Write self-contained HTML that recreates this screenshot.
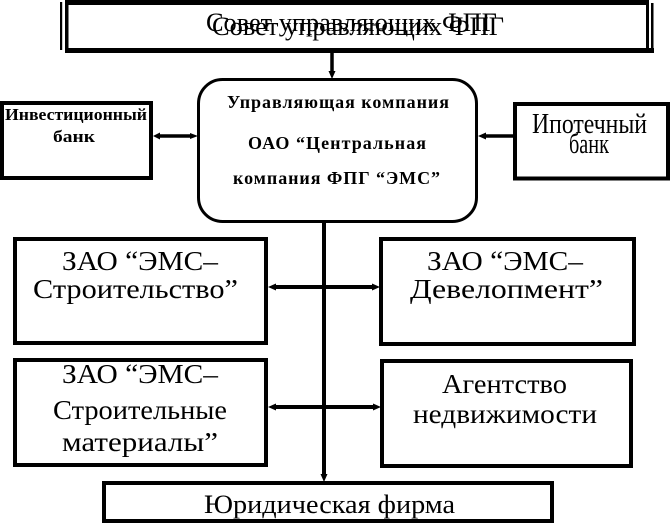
<!DOCTYPE html>
<html>
<head>
<meta charset="utf-8">
<style>
  html, body { margin:0; padding:0; background:#fff; }
  svg { display:block; }
  text { font-family: "Liberation Serif", "DejaVu Serif", serif; fill:#000; }
</style>
</head>
<body>
<svg width="670" height="523" viewBox="0 0 670 523" xmlns="http://www.w3.org/2000/svg">
  <rect x="0" y="0" width="670" height="523" fill="#fff"/>

  <!-- Top double-framed box -->
  <rect x="65" y="0" width="584" height="5" fill="#000"/>
  <rect x="65" y="48" width="589" height="5" fill="#000"/>
  <rect x="65" y="0" width="3.5" height="53" fill="#000"/>
  <rect x="60" y="2" width="2.2" height="48" fill="#000"/>
  <rect x="646" y="0" width="3" height="51" fill="#000"/>
  <rect x="651" y="3" width="2.5" height="50" fill="#000"/>
  <text x="206" y="31" font-size="26" textLength="291" lengthAdjust="spacingAndGlyphs">Совет управляющих ФПГ</text>
  <text x="212" y="35" font-size="26" textLength="292" lengthAdjust="spacingAndGlyphs">Совет управляющих ФПГ</text>

  <!-- top connector -->
  <line x1="332" y1="53" x2="332" y2="72" stroke="#000" stroke-width="3.5"/>
  <polygon points="328.5,71 332,79 335.5,71" fill="#000"/>

  <!-- Rounded central box -->
  <rect x="198.5" y="79.5" width="278" height="142" rx="24" ry="24" fill="none" stroke="#000" stroke-width="3"/>
  <text x="227" y="108" font-size="18" font-weight="bold" textLength="222" lengthAdjust="spacing">Управляющая компания</text>
  <text x="248" y="149" font-size="18" font-weight="bold" textLength="178" lengthAdjust="spacing">ОАО “Центральная</text>
  <text x="233" y="184" font-size="18" font-weight="bold" textLength="207" lengthAdjust="spacing">компания ФПГ “ЭМС”</text>

  <!-- Investment bank -->
  <rect x="2" y="103" width="149" height="75" fill="none" stroke="#000" stroke-width="4"/>
  <text x="5" y="120" font-size="17" font-weight="bold" textLength="142" lengthAdjust="spacingAndGlyphs">Инвестиционный</text>
  <text x="53" y="142" font-size="17" font-weight="bold" textLength="42" lengthAdjust="spacingAndGlyphs">банк</text>
  <line x1="157" y1="136" x2="191" y2="136" stroke="#000" stroke-width="3.5"/>
  <polygon points="160,132.5 153,136 160,139.5" fill="#000"/>
  <polygon points="190,133 198,136 190,139" fill="#000"/>

  <!-- Mortgage bank -->
  <rect x="515" y="104" width="153" height="74.5" fill="none" stroke="#000" stroke-width="4"/>
  <text x="532" y="133" font-size="28" textLength="115" lengthAdjust="spacingAndGlyphs">Ипотечный</text>
  <text x="569" y="153" font-size="28" textLength="40" lengthAdjust="spacingAndGlyphs">банк</text>
  <line x1="484" y1="136" x2="513" y2="136" stroke="#000" stroke-width="3.5"/>
  <polygon points="486,132.5 478,136 486,139.5" fill="#000"/>

  <!-- Trunk -->
  <line x1="324" y1="222" x2="324" y2="475" stroke="#000" stroke-width="4"/>
  <polygon points="320.5,474 324,482 327.5,474" fill="#000"/>

  <!-- ЗАО ЭМС-Строительство -->
  <rect x="15" y="239" width="251" height="104" fill="none" stroke="#000" stroke-width="4"/>
  <text x="62" y="270" font-size="27" textLength="156" lengthAdjust="spacingAndGlyphs">ЗАО “ЭМС–</text>
  <text x="33" y="298" font-size="27" textLength="205" lengthAdjust="spacingAndGlyphs">Строительство”</text>

  <!-- ЗАО ЭМС-Девелопмент -->
  <rect x="381" y="239" width="253" height="105" fill="none" stroke="#000" stroke-width="4"/>
  <text x="427" y="270" font-size="27" textLength="156" lengthAdjust="spacingAndGlyphs">ЗАО “ЭМС–</text>
  <text x="410" y="298" font-size="27" textLength="193" lengthAdjust="spacingAndGlyphs">Девелопмент”</text>

  <!-- upper row connector -->
  <line x1="275" y1="287" x2="373" y2="287" stroke="#000" stroke-width="4"/>
  <polygon points="276,283.5 268,287 276,290.5" fill="#000"/>
  <polygon points="372,283.5 380,287 372,290.5" fill="#000"/>

  <!-- ЗАО ЭМС-Строительные материалы -->
  <rect x="15" y="360" width="251" height="105" fill="none" stroke="#000" stroke-width="4"/>
  <text x="62" y="383" font-size="27" textLength="156" lengthAdjust="spacingAndGlyphs">ЗАО “ЭМС–</text>
  <text x="53" y="419" font-size="27" textLength="174" lengthAdjust="spacingAndGlyphs">Строительные</text>
  <text x="62" y="451" font-size="27" textLength="156" lengthAdjust="spacingAndGlyphs">материалы”</text>

  <!-- Агентство недвижимости -->
  <rect x="382" y="361" width="249" height="105" fill="none" stroke="#000" stroke-width="4"/>
  <text x="442" y="393" font-size="27" textLength="125" lengthAdjust="spacingAndGlyphs">Агентство</text>
  <text x="413" y="423" font-size="27" textLength="184" lengthAdjust="spacingAndGlyphs">недвижимости</text>

  <!-- lower row connector -->
  <line x1="275" y1="407" x2="374" y2="407" stroke="#000" stroke-width="4"/>
  <polygon points="276,403.5 268,407 276,410.5" fill="#000"/>
  <polygon points="373,403.5 381,407 373,410.5" fill="#000"/>

  <!-- Юридическая фирма -->
  <rect x="104" y="483" width="448" height="38" fill="none" stroke="#000" stroke-width="4"/>
  <text x="204" y="513" font-size="26" textLength="251" lengthAdjust="spacingAndGlyphs">Юридическая фирма</text>
</svg>
</body>
</html>
